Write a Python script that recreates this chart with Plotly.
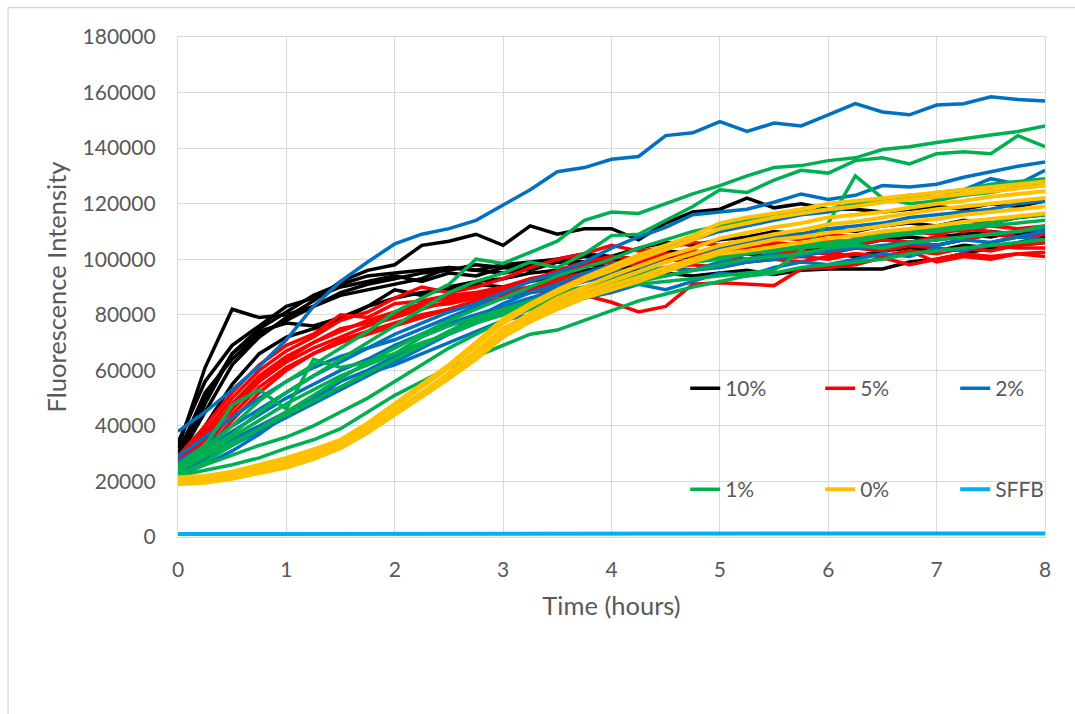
import plotly.graph_objects as go

# Sampling times (hours) - one reading every 15 minutes
hours = [i * 0.25 for i in range(33)]

# Fluorescence readings in thousands of units, one list per replicate well
serum_10pct = [
    [32, 61, 82, 79, 80, 83, 88, 91, 93, 95, 96, 98, 97, 98, 99, 101, 100, 99, 101, 102, 104, 103, 105, 104, 106, 105, 107, 108, 107, 109, 110, 109, 111],
    [28, 45, 62, 72, 79, 85, 92, 96, 98, 105, 106.5, 109, 105, 112, 109, 111, 111, 107, 113, 117, 118, 122, 118.5, 120, 118, 118, 117, 118, 119, 118, 120, 119, 121],
    [26, 48, 66, 75, 81, 87, 91, 94, 95, 96, 97, 96, 98, 99, 100, 99, 97, 96, 95, 94, 95, 96, 94.5, 96, 96.5, 96.5, 96.5, 99, 100, 102, 104, 105, 106],
    [30, 52, 64, 73, 78, 83, 87, 89, 91, 93, 97, 96, 95, 97, 100, 102, 101, 104, 106, 105, 107, 108, 110, 109, 111, 110, 112, 113, 112, 114, 113, 115, 116],
    [24, 40, 55, 66, 72, 75, 78, 83, 86, 88, 89, 91, 90, 92, 94, 96, 97, 98, 100, 101, 103, 102, 104, 105, 104, 106, 107, 106, 108, 109, 108, 110, 111],
    [27, 50, 66, 74, 77, 76, 79, 83, 89, 87, 90, 92, 93, 95, 96, 98, 97, 100, 99, 102, 101, 103, 105, 104, 103, 105, 104, 106, 105, 107, 109, 108, 110],
    [34, 56, 69, 76, 83, 86, 90, 92, 94, 92, 95, 94, 97, 96, 99, 98, 101, 100, 103, 102, 100, 102, 101, 103, 102, 101, 103, 104, 103, 105, 104, 106, 108],
]
serum_5pct = [
    [28, 38, 50, 60, 67, 72, 78, 81, 86, 90, 88, 90, 93, 97, 100, 102, 105, 103, 104, 106, 105, 107, 108, 107, 109, 108, 110, 109, 111, 110, 112, 111, 112],
    [26, 36, 48, 58, 65, 70, 74, 78, 81, 84, 86, 87, 89, 92, 96, 99, 101, 100, 102, 101, 103, 104, 103, 105, 106, 105, 107, 106, 108, 107, 109, 108, 110],
    [24, 33, 44, 54, 61, 66, 71, 74, 77, 80, 82, 84, 86, 88, 89, 87, 84.5, 81, 83, 91, 91.5, 91, 90.5, 96.5, 97, 98, 100.5, 98, 100, 102, 101, 102, 102.5],
    [25, 35, 46, 56, 63, 68, 72, 76, 79, 82, 85, 86, 88, 90, 93, 95, 96, 95, 97, 98, 97, 99, 100, 99, 101, 102, 101, 103, 102, 104, 103, 105, 106],
    [29, 40, 52, 62, 69, 73, 80, 79, 84, 85, 87, 88, 90, 93, 95, 98, 99, 98, 100, 99, 101, 100, 102, 103, 102, 104, 103, 105, 104, 103, 105, 104, 104],
    [22, 31, 42, 52, 60, 66, 70, 73, 76, 79, 82, 85, 88, 90, 91, 93, 94, 95, 97, 96, 98, 99, 100, 101, 100, 102, 101, 103, 99, 101, 100, 102, 101],
    [27, 37, 47, 57, 64, 70, 75, 77, 80, 83, 84, 86, 87, 89, 92, 94, 97, 99, 101, 103, 102, 104, 106, 105, 107, 106, 108, 110, 109, 111, 110, 108, 109],
]
serum_2pct = [
    [38, 45, 53, 61.5, 71, 83, 92, 99, 105.5, 109, 111, 114, 119.5, 125, 131.5, 133, 136, 137, 144.5, 145.5, 149.5, 146, 149, 148, 152, 156, 153, 152, 155.5, 156, 158.5, 157.5, 157],
    [27, 33, 40, 46, 52, 58, 63, 68, 73, 77, 81, 84, 88, 92, 95, 99, 104, 108, 111.5, 116, 117, 118, 120.5, 123.5, 121.5, 123, 126.5, 126, 127, 129.5, 131.5, 133.5, 135],
    [24, 30, 35, 40, 45, 50, 56, 60, 65, 69, 74, 79, 84, 88, 91, 95, 98, 101, 104, 107, 110, 112, 114, 116, 117, 119, 121, 123, 122, 125, 129, 127, 132],
    [26, 32, 38, 44, 50, 55, 60, 64, 69, 73, 77, 80, 83, 86, 89, 92, 95, 97, 99, 102, 104, 106, 108, 109, 111, 112, 113, 115, 116, 117, 118, 120, 121],
    [23, 28, 33, 38, 43, 48, 53, 58, 63, 68, 73, 77, 82, 85, 88, 90, 91, 93, 94, 96, 97, 99, 100, 102, 103, 104, 105, 106, 107, 108, 109, 110, 111],
    [29, 36, 43, 50, 56, 61, 65, 68, 71, 75, 79, 83, 86, 88, 90, 92, 94, 95, 97, 96, 99, 100, 102, 101, 103, 105, 104, 106, 105, 107, 106, 108, 107],
    [22, 26, 31, 37, 44, 50, 54, 59, 62, 66, 70, 74, 78, 80, 84, 86, 88, 91, 89, 92, 95, 94, 97, 99, 98, 100, 102, 101, 104, 103, 106, 108, 110],
]
serum_1pct = [
    [24, 32, 40, 49, 56, 62, 68, 74, 81, 86, 91, 100, 98.5, 102.5, 106.5, 114, 117, 116.5, 120, 123.5, 126.5, 130, 133, 133.7, 135.5, 136.5, 139.5, 140.5, 142, 143.5, 144.7, 146, 148],
    [26, 31, 37, 45, 52, 58, 64, 70, 76, 82, 88, 92, 95, 99, 97, 102, 108.5, 109, 114, 119, 125, 124, 128.5, 132, 131, 135.5, 136.5, 134.3, 138, 138.7, 138, 144.5, 140.5],
    [25, 30, 36, 42, 48, 53, 58, 62, 66, 70, 73, 77, 80, 83, 86, 88, 90, 91, 92, 93, 94, 95, 96, 103, 113, 130, 122, 120, 121, 123, 124, 126, 128],
    [22, 24, 26, 28.5, 32, 35, 39, 45, 51, 56, 61, 65, 69, 73, 74.5, 78, 81.5, 85, 87.5, 90, 92, 94, 95, 97, 98, 99, 100, 102, 103, 104, 105, 106, 107],
    [23, 26, 29.5, 33, 36, 40, 45, 50, 56, 62, 68, 73, 78, 82, 85, 87, 90, 92, 94, 96, 98, 100, 101, 102, 104, 105, 104, 106, 107, 108, 109, 110, 112],
    [26, 33, 47.5, 53, 46, 64, 61, 63, 66, 72, 76, 79, 82, 85, 88, 90, 92, 94, 97, 99, 100, 102, 103, 104, 105, 106, 108, 109, 110, 111, 112, 113, 114],
    [24, 29, 34, 39, 44, 49, 54, 59, 64, 69, 74, 78, 81, 84, 87, 90, 93, 95, 97, 99, 101, 102, 104, 105, 106, 107, 109, 110, 111, 112, 113, 115, 116],
    [22, 27, 33, 39, 45, 51, 57, 63, 68, 73, 78, 82, 86, 90, 94, 97, 100, 104, 107, 110, 112, 114, 116, 117, 118, 120, 121, 122, 124, 125, 127, 128, 129],
]
serum_0pct = [
    [21.5, 22, 23.5, 26, 28.5, 31.5, 35, 41, 48, 55, 62, 70, 78.5, 84, 89, 93.5, 97.5, 101.5, 105, 108.5, 113, 115, 116.5, 118, 120, 121, 122, 123, 124, 125, 126, 127, 128],
    [21, 21.5, 23, 25.5, 28, 31, 34.5, 40.5, 47, 54, 61, 69, 77, 83, 88, 92.5, 96, 100, 103.5, 107, 111, 113, 115, 116.5, 118, 119, 120.5, 121.5, 122.5, 123.5, 124.5, 125.5, 126.5],
    [20.5, 21, 22.5, 24.5, 27, 30, 33.5, 39, 45.5, 52, 59, 67, 75, 80.5, 86, 90, 94, 97.5, 101, 104, 107.5, 109.5, 111.5, 113, 115, 116, 117, 118.5, 120, 121, 122.5, 123.5, 124.5],
    [20, 20.5, 22, 24, 26.5, 29.5, 33, 38.5, 45, 51.5, 58, 66, 74, 79.5, 84.5, 88.5, 92, 95.5, 99, 102, 105, 107, 109, 110.5, 112.5, 113.5, 115, 116.5, 118, 119, 120, 121, 122],
    [19.5, 20, 21.5, 23.5, 26, 29, 32.5, 38, 44.5, 51, 57.5, 65, 73, 78.5, 83, 87, 90.5, 93.5, 97, 100, 103, 105, 107, 108, 109.5, 110.5, 112, 113.5, 114.5, 116, 117, 118, 119],
    [19, 19.5, 21, 23, 25, 28, 32, 37.5, 44, 50.5, 57, 64, 72, 77.5, 82, 86, 89, 92, 95.5, 99, 102, 103, 104.5, 106, 107.5, 108.5, 110, 111, 112, 113.5, 114.5, 115.5, 116.5],
]
sffb_blank = [
    [1.1, 1.1, 1.1, 1.1, 1.1, 1.1, 1.1, 1.1, 1.1, 1.1, 1.1, 1.1, 1.1, 1.1, 1.1, 1.1, 1.2, 1.2, 1.2, 1.2, 1.2, 1.2, 1.2, 1.3, 1.3, 1.3, 1.3, 1.3, 1.3, 1.3, 1.3, 1.3, 1.3],
]

groups = [
    ("10%", serum_10pct, "#000000", 3.5, "legend"),
    ("5%", serum_5pct, "#FF0000", 3.5, "legend"),
    ("2%", serum_2pct, "#0070C0", 3.5, "legend"),
    ("1%", serum_1pct, "#00B050", 3.5, "legend2"),
    ("0%", serum_0pct, "#FFC000", 4, "legend2"),
    ("SFFB", sffb_blank, "#00B0F0", 4, "legend2"),
]

fig = go.Figure()
for name, wells, color, width, leg in groups:
    for i, well in enumerate(wells):
        fig.add_trace(go.Scatter(
            x=hours,
            y=[v * 1000 for v in well],
            mode="lines",
            name=name,
            legendgroup=name,
            showlegend=(i == 0),
            legend=leg,
            line=dict(color=color, width=width),
            hoverinfo="skip",
        ))

font_family = "Lato, 'Open Sans', sans-serif"
label_color = "#595959"
grid_color = "#D9D9D9"

legend_style = dict(
    orientation="h",
    xanchor="left",
    yanchor="middle",
    x=0.585,
    entrywidth=90,
    entrywidthmode="pixels",
    itemwidth=30,
    bgcolor="rgba(0,0,0,0)",
    font=dict(family=font_family, size=21, color=label_color),
    traceorder="normal",
    itemclick=False,
    itemdoubleclick=False,
)

fig.update_layout(
    width=1075,
    height=714,
    autosize=False,
    margin=dict(l=178, r=30, t=37, b=177, pad=0, autoexpand=False),
    paper_bgcolor="white",
    plot_bgcolor="white",
    font=dict(family=font_family, color=label_color),
    legend=dict(legend_style, y=0.297),
    legend2=dict(legend_style, y=0.095),
    xaxis=dict(
        range=[0, 8],
        tick0=0,
        dtick=1,
        showgrid=True,
        gridcolor=grid_color,
        gridwidth=1.3,
        zeroline=False,
        showline=True,
        linecolor=grid_color,
        linewidth=1.3,
        mirror=True,
        ticks="",
        ticklabelstandoff=14,
        tickfont=dict(family=font_family, size=21, color=label_color),
        title=dict(text="Time (hours)", standoff=16,
                   font=dict(family=font_family, size=25.5, color=label_color)),
    ),
    yaxis=dict(
        range=[0, 180000],
        tick0=0,
        dtick=20000,
        tickformat="d",
        showgrid=True,
        gridcolor=grid_color,
        gridwidth=1.3,
        zeroline=False,
        showline=True,
        linecolor=grid_color,
        linewidth=1.3,
        mirror=True,
        ticks="",
        ticklabelstandoff=17,
        tickfont=dict(family=font_family, size=21, color=label_color),
        title=dict(text="Fluorescence Intensity", standoff=8,
                   font=dict(family=font_family, size=25.5, color=label_color)),
    ),
    shapes=[
        dict(type="rect", xref="paper", yref="paper",
             x0=-0.196, x1=1.1, y0=-0.5, y1=1.059,
             line=dict(color=grid_color, width=1.3),
             fillcolor="rgba(0,0,0,0)", layer="below"),
    ],
)

fig.write_html("out.html")
